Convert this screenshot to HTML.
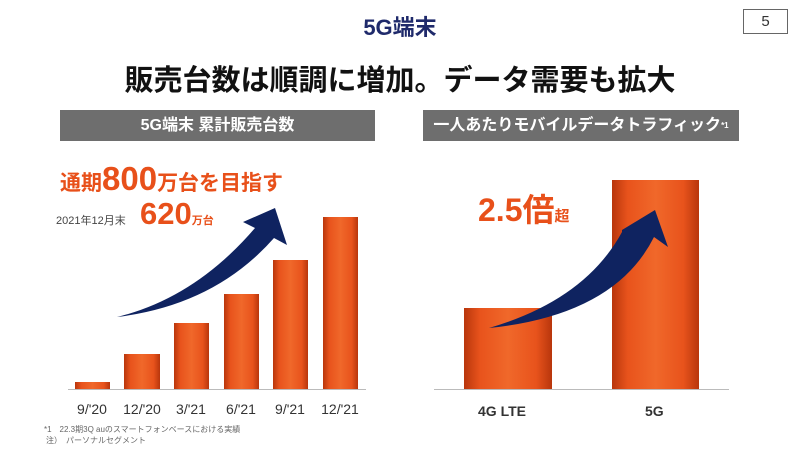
<!DOCTYPE html>
<html><head><meta charset="utf-8"><style>
body{margin:0;width:800px;height:450px;background:#fff;position:relative;overflow:hidden;font-family:"Liberation Sans","Noto Sans CJK JP",sans-serif}
.a{position:absolute;white-space:nowrap}
.hdr{position:absolute;background:#6e6e6e;color:#fff;font-weight:bold;font-size:16px;text-align:center;line-height:31px;height:31px}
.bar{position:absolute;background:linear-gradient(90deg,#b8360c 0%,#e8531c 18%,#f0682a 50%,#e8531c 82%,#b8360c 100%)}
.lbl{position:absolute;font-size:14px;color:#333;text-align:center;width:60px}
</style></head><body>
<div class="a" style="left:0;width:800px;top:10px;text-align:center;font-size:22px;font-weight:bold;color:#1f2a6b">5G端末</div>
<div class="a" style="left:743px;top:9px;width:43px;height:23px;border:1px solid #666;text-align:center;line-height:23px;font-size:15px;color:#333">5</div>
<div class="a" style="left:0;width:800px;top:57px;text-align:center;font-size:29px;font-weight:bold;color:#111">販売台数は順調に増加。データ需要も拡大</div>

<div class="hdr" style="left:60px;top:110px;width:315px">5G端末 累計販売台数</div>
<div class="hdr" style="left:423px;top:110px;width:316px">一人あたりモバイルデータトラフィック<span style="font-size:8px;vertical-align:top">*1</span></div>

<div class="a" style="left:60px;top:160px;font-size:21px;font-weight:bold;color:#e8501a">通期<span style="font-size:33px">800</span>万台を目指す</div>
<div class="a" style="left:56px;top:212px;font-size:11px;color:#444">2021年12月末</div>
<div class="a" style="left:140px;top:196px;font-size:31px;font-weight:bold;color:#e8501a">620<span style="font-size:11px">万台</span></div>

<div class="a" style="left:68px;top:389px;width:298px;height:1px;background:#bbb"></div>
<div class="bar" style="left:75px;top:382px;width:35px;height:7px"></div>
<div class="bar" style="left:124px;top:354px;width:36px;height:35px"></div>
<div class="bar" style="left:174px;top:323px;width:35px;height:66px"></div>
<div class="bar" style="left:224px;top:294px;width:35px;height:95px"></div>
<div class="bar" style="left:273px;top:260px;width:35px;height:129px"></div>
<div class="bar" style="left:323px;top:217px;width:35px;height:172px"></div>
<div class="lbl" style="left:62px;top:401px">9/'20</div>
<div class="lbl" style="left:112px;top:401px">12/'20</div>
<div class="lbl" style="left:161px;top:401px">3/'21</div>
<div class="lbl" style="left:211px;top:401px">6/'21</div>
<div class="lbl" style="left:260px;top:401px">9/'21</div>
<div class="lbl" style="left:310px;top:401px">12/'21</div>
<div class="a" style="left:44px;top:424px;font-size:8px;color:#666">*1　22.3期3Q auのスマートフォンベースにおける実績</div>
<div class="a" style="left:46px;top:435px;font-size:8px;color:#666">注）　パーソナルセグメント</div>

<div class="a" style="left:434px;top:389px;width:295px;height:1px;background:#bbb"></div>
<div class="bar" style="left:464px;top:308px;width:88px;height:81px"></div>
<div class="bar" style="left:612px;top:180px;width:87px;height:209px"></div>
<div class="a" style="left:478px;top:185px;font-size:32px;font-weight:bold;color:#e8501a">2.5倍<span style="font-size:15px">超</span></div>
<div class="a" style="left:478px;top:403px;font-size:14px;font-weight:bold;color:#333">4G LTE</div>
<div class="a" style="left:645px;top:403px;font-size:14px;font-weight:bold;color:#333">5G</div>

<svg class="a" style="left:0;top:0" width="800" height="450">
<path d="M117,317 Q195,298 255,228 L243,222 L275,208 L287,245 L274,238 Q215,305 117,317 Z" fill="#0f2360"/>
<path d="M489,328 Q585,300 622,232 L622,230 L655,210 L668,247 L654,237 Q615,315 489,328 Z" fill="#0f2360"/>
</svg>
</body></html>
